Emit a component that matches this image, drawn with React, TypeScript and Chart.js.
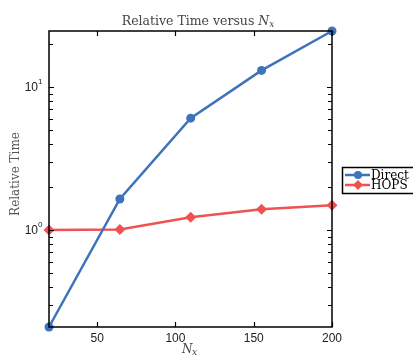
import React, { useEffect, useRef } from "react";
import { Chart, registerables } from "chart.js";

Chart.register(...registerables);

const nx = [19.25, 64.5, 109.75, 155, 200];
const directTime = [0.21, 1.65, 6.07, 13.1, 24.7];
const hopsTime = [1.0, 1.01, 1.23, 1.4, 1.49];
const xTicks = [50, 100, 150, 200];
const yMajorTicks = [1, 10];
const yMinorTicks = [0.3, 0.4, 0.5, 0.6, 0.7, 0.8, 0.9, 2, 3, 4, 5, 6, 7, 8, 9, 20];
const yTickLabels = ["0", "1"];
const seriesNames = ["Direct", "HOPS"];

const BLUE = "rgb(62,114,186)";
const RED = "rgb(240,82,82)";
const SERIF = "'DejaVu Serif', serif";
const SANS = "'Liberation Sans', Arial, sans-serif";

const decor = {
  id: "decor",
  afterDraw(chart: any) {
    const { ctx, chartArea: a, scales } = chart;
    const xs = scales.x;
    const ys = scales.y;
    ctx.save();
    ctx.strokeStyle = "#000";
    ctx.lineWidth = 1.5;
    ctx.strokeRect(a.left, a.top, a.right - a.left, a.bottom - a.top);
    ctx.lineWidth = 1.2;
    ctx.beginPath();
    xTicks.forEach((v) => {
      const px = Math.round(xs.getPixelForValue(v)) + 0.5;
      ctx.moveTo(px, a.bottom);
      ctx.lineTo(px, a.bottom - 5);
      ctx.moveTo(px, a.top);
      ctx.lineTo(px, a.top + 5);
    });
    yMajorTicks.forEach((v) => {
      const py = Math.round(ys.getPixelForValue(v)) + 0.5;
      ctx.moveTo(a.left, py);
      ctx.lineTo(a.left + 5, py);
      ctx.moveTo(a.right, py);
      ctx.lineTo(a.right - 5, py);
    });
    yMinorTicks.forEach((v) => {
      const py = Math.round(ys.getPixelForValue(v)) + 0.5;
      ctx.moveTo(a.left, py);
      ctx.lineTo(a.left + 4, py);
      ctx.moveTo(a.right, py);
      ctx.lineTo(a.right - 4, py);
    });
    ctx.stroke();

    ctx.fillStyle = "#222";
    ctx.font = `12px ${SANS}`;
    ctx.textAlign = "center";
    ctx.textBaseline = "top";
    xTicks.forEach((v) => {
      ctx.fillText(String(v), xs.getPixelForValue(v), a.bottom + 6);
    });
    yMajorTicks.forEach((v, i) => {
      const py = ys.getPixelForValue(v);
      ctx.font = `12px ${SANS}`;
      ctx.textAlign = "right";
      ctx.textBaseline = "middle";
      ctx.fillText("10", a.left - 11, py + 1);
      ctx.font = `8px ${SANS}`;
      ctx.textAlign = "left";
      ctx.fillText(yTickLabels[i], a.left - 11, py - 5);
    });

    // title
    ctx.fillStyle = "#444";
    ctx.textBaseline = "alphabetic";
    ctx.font = `12.5px ${SERIF}`;
    const t1 = "Relative Time versus ";
    const w1 = ctx.measureText(t1).width;
    ctx.font = `italic 12.5px ${SERIF}`;
    const wN = ctx.measureText("N").width;
    ctx.font = `italic 9px ${SERIF}`;
    const wx = ctx.measureText("x").width;
    const cx = 198;
    const sx = cx - (w1 + wN + wx) / 2;
    ctx.textAlign = "left";
    ctx.font = `12.5px ${SERIF}`;
    ctx.fillText(t1, sx, 25);
    ctx.font = `italic 12.5px ${SERIF}`;
    ctx.fillText("N", sx + w1, 25);
    ctx.font = `italic 9px ${SERIF}`;
    ctx.fillText("x", sx + w1 + wN, 27);

    // x axis label
    ctx.font = `italic 12px ${SERIF}`;
    ctx.fillText("N", 182, 353);
    ctx.font = `italic 9px ${SERIF}`;
    ctx.fillText("x", 192, 355);

    // y axis label
    ctx.save();
    ctx.translate(19, 174);
    ctx.rotate(-Math.PI / 2);
    ctx.textAlign = "center";
    ctx.font = `12px ${SERIF}`;
    ctx.fillStyle = "#555";
    ctx.fillText("Relative Time", 0, 0);
    ctx.restore();

    // legend
    const lx = 342, ly = 167;
    ctx.fillStyle = "#fff";
    ctx.fillRect(lx, ly, 80, 26);
    ctx.strokeStyle = "#000";
    ctx.lineWidth = 1.5;
    ctx.strokeRect(lx + 0.5, ly + 0.5, 80, 26);
    const colors = [BLUE, RED];
    seriesNames.forEach((name, i) => {
      const yy = ly + 8 + i * 10;
      ctx.strokeStyle = colors[i];
      ctx.lineWidth = 2.5;
      ctx.beginPath();
      ctx.moveTo(lx + 3, yy);
      ctx.lineTo(lx + 28, yy);
      ctx.stroke();
      ctx.fillStyle = colors[i];
      ctx.beginPath();
      if (i === 0) {
        ctx.arc(lx + 16, yy, 4, 0, Math.PI * 2);
      } else {
        ctx.moveTo(lx + 16, yy - 5);
        ctx.lineTo(lx + 21, yy);
        ctx.lineTo(lx + 16, yy + 5);
        ctx.lineTo(lx + 11, yy);
        ctx.closePath();
      }
      ctx.fill();
      ctx.fillStyle = "#000";
      ctx.font = `12px ${SERIF}`;
      ctx.textAlign = "left";
      ctx.textBaseline = "middle";
      ctx.fillText(name, lx + 29, yy + 1);
    });
    ctx.restore();
  },
};

export default function App() {
  const ref = useRef<HTMLCanvasElement>(null);
  useEffect(() => {
    if (!ref.current) return;
    const chart = new Chart(ref.current, {
      type: "line",
      data: {
        datasets: [
          {
            label: seriesNames[0],
            data: nx.map((x, i) => ({ x, y: directTime[i] })),
            borderColor: BLUE,
            backgroundColor: BLUE,
            borderWidth: 2.5,
            pointRadius: 4.5,
            pointStyle: "circle",
            pointBorderWidth: 0,
            clip: false,
          } as any,
          {
            label: seriesNames[1],
            data: nx.map((x, i) => ({ x, y: hopsTime[i] })),
            borderColor: RED,
            backgroundColor: RED,
            borderWidth: 2.5,
            pointRadius: 5.5,
            pointStyle: "rectRot",
            pointBorderWidth: 0,
            clip: false,
          } as any,
        ],
      },
      options: {
        animation: false,
        responsive: false,
        layout: { padding: { left: 49, right: 81, top: 31, bottom: 29 } },
        plugins: { legend: { display: false }, tooltip: { enabled: false }, title: { display: false } },
        scales: {
          x: { type: "linear", min: 19.25, max: 200, display: false },
          y: { type: "logarithmic", min: 0.21, max: 24.7, display: false },
        },
      },
      plugins: [decor],
    });
    return () => chart.destroy();
  }, []);
  return (
    <div style={{ position: "fixed", left: 0, top: 0, width: 413, height: 356, background: "#fff" }}>
      <canvas ref={ref} width={413} height={356} />
    </div>
  );
}
